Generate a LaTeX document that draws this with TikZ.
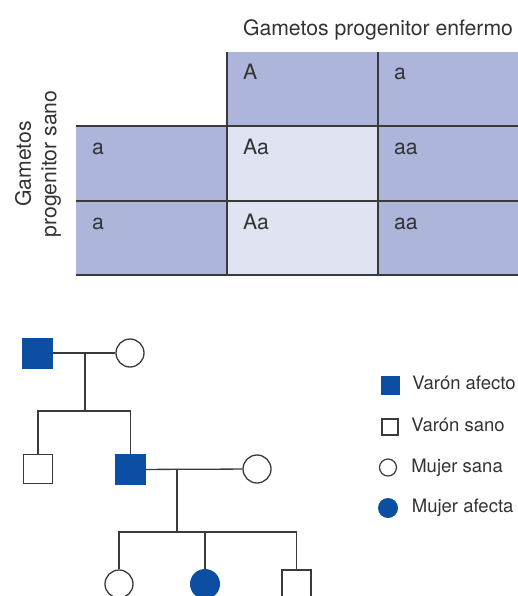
\documentclass[tikz,border=0pt]{standalone}
\usepackage{fontspec}
\setmainfont{TeX Gyre Heros}
\usetikzlibrary{positioning}
\definecolor{cross}{HTML}{ADB5DB}
\definecolor{cell}{HTML}{DFE3F2}
\definecolor{affect}{HTML}{0C4EA2}
\definecolor{lin}{HTML}{3A3A3A}
\definecolor{ink}{HTML}{333333}

\begin{document}
\begin{tikzpicture}[x=1pt, y=-1pt]
    % Styles
    \tikzstyle{head} = [inner sep=0pt, text=ink, font=\fontsize{21.2}{25.5}\selectfont]
    \tikzstyle{gene} = [head, anchor=base west]
    \tikzstyle{rule} = [draw=lin, line width=1.4pt]
    \tikzstyle{affmale} = [rectangle, fill=affect, minimum size=31pt, inner sep=0pt]
    \tikzstyle{male} = [rectangle, draw=lin, fill=white, line width=1.3pt, minimum size=29pt, inner sep=0pt]
    \tikzstyle{female} = [circle, draw=lin, fill=white, line width=1.3pt, minimum size=28pt, inner sep=0pt]
    \tikzstyle{afffemale} = [circle, fill=affect, minimum size=30pt, inner sep=0pt]
    \tikzstyle{link} = [draw=lin, line width=1.3pt]
    \tikzstyle{key} = [inner sep=0pt, text=ink, anchor=west, text height=13pt, text depth=4pt, font=\fontsize{18.5}{22}\selectfont]

    \useasboundingbox (0,0) rectangle (518,596);
    \clip (0,0) rectangle (518,596);

    % Punnett square
    \fill[cross] (227,52) rectangle (518,126);
    \fill[cross] (76,126) rectangle (227,275);
    \fill[cross] (378,126) rectangle (518,275);
    \fill[cell] (227,126) rectangle (378,275);
    \draw[rule] (76,126) -- (518,126);
    \draw[rule] (76,201) -- (518,201);
    \draw[rule] (76,275) -- (518,275);
    \draw[rule] (227,52) -- (227,275);
    \draw[rule] (378,52) -- (378,275);

    \node[head, anchor=base] (title) at (378,36) {Gametos progenitor enfermo};
    \node[head, rotate=90, align=center] (side) at (38,164) {Gametos\\progenitor sano};

    \node[gene] (gA) at (243,80) {A};
    \node[gene] (ga) at (394,80) {a};
    \node[gene] (r1) at (92,155) {a};
    \node[gene] (r2) at (92,229) {a};
    \node[gene] (c11) at (243,155) {Aa};
    \node[gene] (c12) at (394,155) {aa};
    \node[gene] (c21) at (243,229) {Aa};
    \node[gene] (c22) at (394,229) {aa};

    % Pedigree
    \node[affmale] (I1) at (37.5,353) {};
    \node[female] (I2) at (130,353) {};
    \node[male] (II1) at (38,469) {};
    \node[affmale] (II2) at (130.5,469.5) {};
    \node[female] (II3) at (257,469) {};
    \node[female] (III1) at (119,584) {};
    \node[afffemale] (III2) at (205,584) {};
    \node[male] (III3) at (296.5,584.5) {};

    \coordinate (m1) at (85,353);
    \coordinate (s1) at (85,411);
    \coordinate (m2) at (177,469);
    \coordinate (s2) at (177,532);

    \draw[link] (I1) -- (I2);
    \draw[link] (m1) -- (s1);
    \draw[link] (II1) |- (s1) -| (II2);
    \draw[link] (II2) -- (II3);
    \draw[link] (m2) -- (s2);
    \draw[link] (III1) |- (s2) -| (III3);
    \draw[link] (III2) -- (III2 |- s2);

    % Legend
    \node[affmale, minimum size=19pt] (L1) at (390,385) {};
    \node[male, minimum size=16pt, line width=1.2pt] (L2) at (390,427) {};
    \node[female, minimum size=17pt, line width=1.2pt] (L3) at (388,467.5) {};
    \node[afffemale, minimum size=20pt] (L4) at (388,508) {};
    \node[key, right=12.5pt of L1] (t1) {Varón afecto};
    \node[key, right=12.5pt of L2] (t2) {Varón sano};
    \node[key, right=14pt of L3] (t3) {Mujer sana};
    \node[key, right=13.5pt of L4] (t4) {Mujer afecta};
\end{tikzpicture}
\end{document}
